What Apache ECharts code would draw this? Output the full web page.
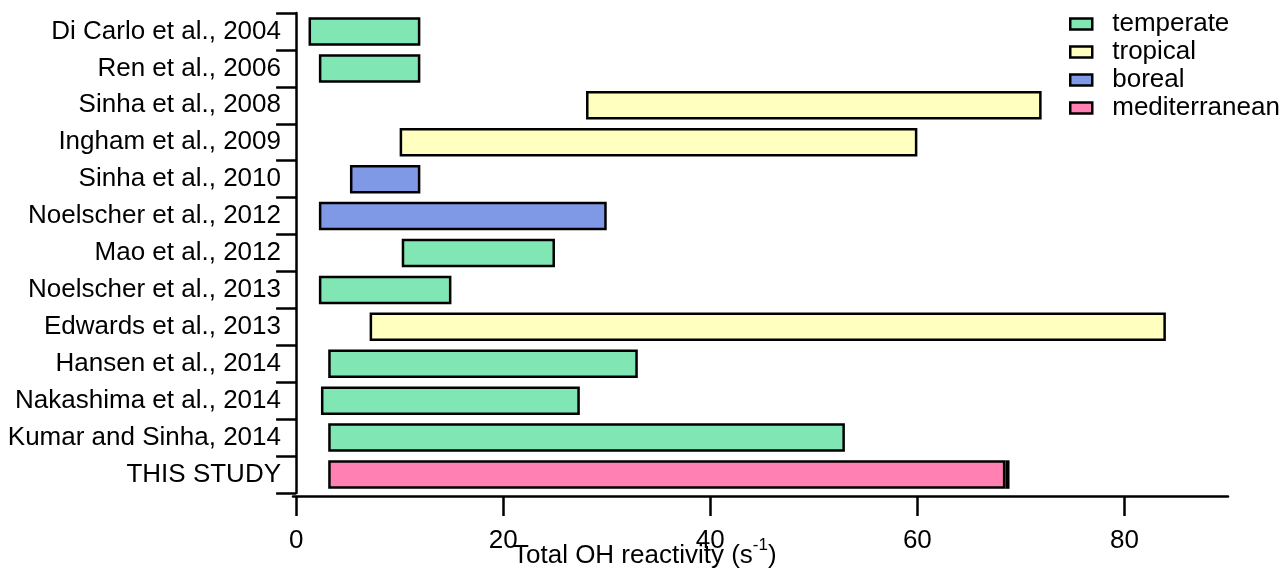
<!DOCTYPE html>
<html>
<head>
<meta charset="utf-8">
<script src="https://cdn.jsdelivr.net/npm/echarts@6/dist/echarts.min.js"></script>
<style>html,body{margin:0;padding:0;background:#fff;}#c{width:1281px;height:571px;}</style>
</head>
<body>
<div id="c"></div>
<script>
const categories = ["Di Carlo et al., 2004","Ren et al., 2006","Sinha et al., 2008","Ingham et al., 2009","Sinha et al., 2010","Noelscher et al., 2012","Mao et al., 2012","Noelscher et al., 2013","Edwards et al., 2013","Hansen et al., 2014","Nakashima et al., 2014","Kumar and Sinha, 2014","THIS STUDY"];
const climate = ["temperate","temperate","tropical","tropical","boreal","boreal","temperate","temperate","tropical","temperate","temperate","temperate","mediterranean"];
const rangeStart = [1.2, 2.2, 28, 10, 5.2, 2.2, 10.2, 2.2, 7.1, 3.1, 2.4, 3.1, 3.1];
const rangeEnd   = [12, 12, 72, 60, 12, 30, 25, 15, 84, 33, 27.4, 53, 68.5];
const thisStudyEdge = [null,null,null,null,null,null,null,null,null,null,null,null,0.4];
const climateTypes = ["temperate","tropical","boreal","mediterranean"];
const climateColors = {temperate:"#80E6B3", tropical:"#FFFFC0", boreal:"#7F99E6", mediterranean:"#FF80B3"};
const xTicks = [0,20,40,60,80];

const FONT = "'Liberation Sans', Arial, sans-serif";
const BW = 28.5;
const FS = 26;

const series = [{
  name: "base", type: "bar", stack: "r", barWidth: BW, silent: true,
  itemStyle: {color: "transparent", borderWidth: 0},
  data: rangeStart
}];
climateTypes.forEach(t => {
  series.push({
    name: t, type: "bar", stack: "r", barWidth: BW,
    itemStyle: {color: climateColors[t], borderColor: "#000", borderWidth: 2.5},
    data: rangeStart.map((s, i) => climate[i] === t ? +(rangeEnd[i] - s).toFixed(3) : "-")
  });
});
series.push({
  name: "edge", type: "bar", stack: "r", barWidth: BW + 2.5, silent: true,
  itemStyle: {color: "#000"},
  data: thisStudyEdge.map(v => v == null ? "-" : v)
});

const chart = echarts.init(document.getElementById("c"), null, {renderer: "canvas"});
chart.setOption({
  animation: false,
  backgroundColor: "#fff",
  grid: {left: 293, right: 53, top: 13, bottom: 78, containLabel: false},
  legend: {
    orient: "vertical", left: 1064, top: 6,
    data: climateTypes,
    itemWidth: 22, itemHeight: 11, itemGap: 2, icon: "rect",
    itemStyle: {borderColor: "#000", borderWidth: 2.5},
    textStyle: {fontFamily: FONT, fontSize: FS, color: "#000", padding: [0, 0, 0, 15]}
  },
  xAxis: {
    type: "value", min: -0.3, max: 90, offset: 3,
    axisLine: {show: true, lineStyle: {color: "#000", width: 2.5}},
    axisTick: {show: true, length: 20, lineStyle: {color: "#000", width: 2.5}, customValues: xTicks},
    axisLabel: {fontFamily: FONT, fontSize: FS, color: "#000", margin: 32, customValues: xTicks},
    splitLine: {show: false}
  },
  yAxis: {
    type: "category", data: categories, inverse: true,
    axisLine: {show: true, lineStyle: {color: "#000", width: 2.5}},
    axisTick: {show: true, length: 20, lineStyle: {color: "#000", width: 2.5}},
    axisLabel: {fontFamily: FONT, fontSize: FS, color: "#000", margin: 12},
    splitLine: {show: false}
  },
  graphic: [{
    type: "text", left: 513, top: 537,
    style: {
      text: "{n|Total OH reactivity (s}{s|-1}{n|)}",
      rich: {
        n: {fontFamily: FONT, fontSize: FS, fill: "#000", lineHeight: 32, verticalAlign: "bottom"},
        s: {fontFamily: FONT, fontSize: 17, fill: "#000", lineHeight: 32, verticalAlign: "top"}
      }
    }
  }],
  series: series
});
</script>
</body>
</html>
